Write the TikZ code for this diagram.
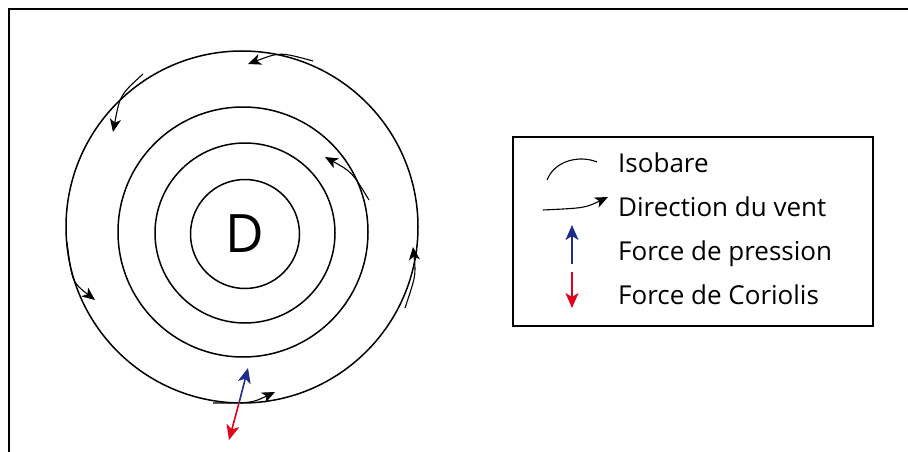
\documentclass[tikz,border=0pt]{standalone}
\usepackage{fontspec}
\setmainfont{Open Sans}
\usetikzlibrary{positioning,arrows.meta}
\definecolor{pressblue}{RGB}{30,45,140}
\definecolor{corired}{RGB}{226,0,26}
\tikzset{isobar/.style={circle,draw,line width=1.5pt,inner sep=0pt},
wind/.style={line width=1.1pt,-{Stealth[length=13pt,width=11pt,inset=3.5pt]}},
force/.style={line width=1.6pt,-{Stealth[length=15pt,width=13pt,inset=4pt]}},
legend text/.style={anchor=base west,font=\fontsize{26}{30}\selectfont,inner sep=0pt}}

\begin{document}
\begin{tikzpicture}[x=1pt,y=-1pt]
    \useasboundingbox (0,0) rectangle (908,452);
    \draw[line width=2pt] (8.5,452) -- (8.5,9.5) -- (908,9.5);

    % isobares
    \node[isobar,minimum size=352] (c4) at (242,227) {};
    \node[isobar,minimum size=250] (c3) at (243,232) {};
    \node[isobar,minimum size=180] (c2) at (245,233) {};
    \node[isobar,minimum size=109] (c1) at (245,234) {};
    \node[font=\fontsize{53}{60}\selectfont,inner sep=0pt] (D) at (c1) {D};

    % vent
    \coordinate (w1) at (313,61);  \coordinate (v1) at (248,64);
    \coordinate (w2) at (143,74);  \coordinate (v2) at (113,132);
    \coordinate (w3) at (369,200); \coordinate (v3) at (325,157);
    \coordinate (w4) at (405,308); \coordinate (v4) at (413,247);
    \coordinate (w5) at (67,242);  \coordinate (v5) at (95,300);
    \coordinate (w6) at (213,403); \coordinate (v6) at (275,392);
    \draw[wind] (w1) .. controls (280,52) .. (v1);
    \draw[wind] (w2) .. controls (120,95) .. (v2);
    \draw[wind] (w3) .. controls (352,172) .. (v3);
    \draw[wind] (w4) .. controls (416,275) .. (v4);
    \draw[wind] (w5) .. controls (72,282) .. (v5);
    \draw[wind] (w6) .. controls (252,403) .. (v6);

    % forces
    \coordinate (p) at (239,403);
    \coordinate (pp) at (248,368);
    \coordinate (pc) at (229,440);
    \draw[force,pressblue] (p) -- (pp);
    \draw[force,corired] (p) -- (pc);

    % legende
    \node[draw,line width=1.4pt,minimum width=360,minimum height=189,inner sep=0pt] (legend) at (693,231.5) {};
    \node[legend text] (iso) at (618,172) {Isobare};
    \node[legend text,below=44pt of iso.base west,anchor=base west] (vent) {Direction du vent};
    \node[legend text,below=44pt of vent.base west,anchor=base west] (pres) {Force de pression};
    \node[legend text,below=44pt of pres.base west,anchor=base west] (cor) {Force de Coriolis};

    \draw[line width=1.1pt] (547,180) .. controls (555,160) and (580,155) .. (597,162);
    \draw[wind] (543,210) .. controls (585,208) .. (608,197);
    \draw[force,pressblue] ([shift={(-46,4)}]pres.base west) -- ++(0,-39);
    \draw[force,corired] ([shift={(-46,-32)}]cor.base west) -- ++(0,36);
\end{tikzpicture}
\end{document}
